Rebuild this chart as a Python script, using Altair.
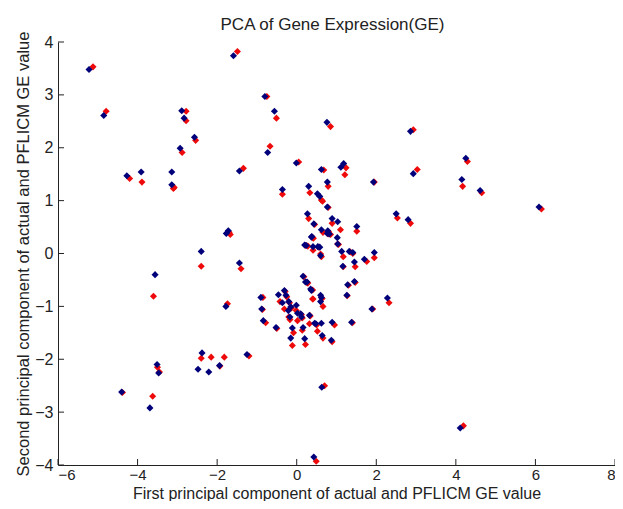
import altair as alt
import pandas as pd

# Blue (actual) points
blue_x = [-5.22,-4.85,-1.59,-4.27,-3.91,-3.14,-3.14,-2.89,-2.83,-2.57,-2.93,-0.80,-0.56,-0.73,-1.44,-0.01,-0.36,0.76,-1.77,-1.72,
          0.62,1.11,1.18,1.93,0.77,0.30,0.52,0.58,0.77,0.27,0.43,0.89,1.03,1.51,0.62,0.78,0.82,0.37,1.02,0.24,
          0.41,0.58,0.60,1.13,1.41,1.95,1.16,1.45,1.70,2.86,4.25,2.93,4.15,4.61,6.09,2.50,2.80,0.16,0.22,0.35,
          1.28,1.45,1.26,0.60,0.60,1.89,2.28,-0.31,-0.46,-0.27,-0.36,-0.15,-0.01,0.02,0.12,-0.17,0.32,-0.52,-0.11,-0.15,
          0.16,0.20,0.45,0.62,0.89,1.38,0.64,0.87,0.63,4.11,0.43,-2.40,-3.56,-1.44,-1.78,-3.51,-3.47,-4.40,-3.69,-2.38,
          -2.48,-2.21,-1.94,-1.25,-0.90,-0.88,-0.84,-0.20,-0.21,0.10,0.48,0.26,0.37,0.62,0.20,0.38,0.77,1.03,0.53,1.32]
blue_y = [3.48,2.61,3.74,1.47,1.54,1.54,1.30,2.70,2.56,2.20,1.99,2.97,2.69,1.91,1.56,1.71,1.21,2.48,0.38,0.43,
          1.59,1.63,1.70,1.35,1.35,1.27,1.13,1.08,0.88,0.75,0.56,0.66,0.60,0.51,0.45,0.43,0.37,0.31,0.30,0.15,
          0.13,0.12,-0.04,0.04,0.02,0.02,-0.24,-0.16,-0.11,2.31,1.80,1.51,1.40,1.19,0.88,0.75,0.64,-0.43,-0.54,-0.67,
          -0.59,-0.53,-0.79,-0.79,-0.91,-1.05,-0.84,-0.70,-0.78,-0.79,-0.93,-1.01,-0.98,-1.13,-1.20,-1.20,-1.17,-1.40,-1.41,-1.60,
          -1.40,-1.61,-1.32,-1.32,-1.30,-1.30,-1.55,-1.64,-2.53,-3.30,-3.85,0.04,-0.40,-0.18,-1.00,-2.10,-2.26,-2.62,-2.92,-1.88,
          -2.19,-2.24,-2.12,-1.91,-0.83,-1.05,-1.27,-0.91,-1.08,-1.14,-1.33,-0.54,-0.70,-0.83,0.16,0.32,0.38,0.18,0.13,0.04]

# Red (PFLICM) points
red_x = [-5.12,-4.79,-1.49,-4.20,-3.89,-3.08,-3.10,-2.78,-2.78,-2.54,-2.88,-0.75,-0.51,-0.67,-1.34,0.05,-0.36,0.85,-1.67,-1.70,
         0.68,1.24,1.21,1.95,0.79,0.33,0.62,0.65,0.79,0.30,0.45,0.89,1.10,1.51,0.66,0.80,0.85,0.42,1.03,0.28,
         0.41,0.60,0.62,1.17,1.41,1.95,1.17,1.47,1.76,2.93,4.29,3.03,4.17,4.65,6.15,2.53,2.86,0.18,0.25,0.40,
         1.30,1.47,1.27,0.41,0.66,1.91,2.32,-0.29,-0.42,-0.25,-0.31,-0.13,-0.01,0.02,0.14,-0.17,0.34,-0.50,-0.08,-0.11,
         0.14,0.22,0.32,0.52,0.95,1.40,0.66,0.89,0.70,4.19,0.49,-2.40,-3.60,-1.40,-1.74,-3.50,-3.45,-4.38,-3.62,-2.40,
         -2.15,-1.82,-1.93,-1.20,-0.85,-0.86,-0.78,-0.18,-0.20,0.12,0.50,0.28,0.40,0.64,0.22,0.40,0.79,1.05,0.55,1.35]
red_y = [3.53,2.69,3.82,1.42,1.35,1.25,1.23,2.69,2.51,2.14,1.91,2.97,2.56,2.03,1.61,1.73,1.12,2.40,0.36,0.40,
         1.58,1.62,1.49,1.35,1.27,1.15,1.01,0.99,0.87,0.66,0.55,0.57,0.45,0.42,0.40,0.41,0.36,0.29,0.18,0.14,
         0.06,-0.01,-0.06,-0.06,0.00,-0.08,-0.25,-0.25,-0.15,2.34,1.74,1.59,1.27,1.15,0.84,0.67,0.57,-0.44,-0.55,-0.69,
         -0.60,-0.55,-0.80,-0.86,-1.00,-1.05,-0.93,-0.72,-0.91,-0.82,-1.05,-1.03,-1.08,-1.27,-1.22,-1.25,-1.18,-1.42,-1.50,-1.74,
         -1.45,-1.72,-1.33,-1.47,-1.35,-1.31,-1.60,-1.67,-2.50,-3.26,-3.93,-0.24,-0.81,-0.29,-0.95,-2.15,-2.24,-2.63,-2.70,-1.98,
         -1.96,-1.96,-2.13,-1.94,-0.83,-1.06,-1.31,-0.93,-1.20,-1.16,-1.35,-0.56,-0.86,-0.85,0.15,0.30,0.37,0.17,0.12,0.03]

x_ticks = [-6, -4, -2, 0, 2, 4, 6, 8]
y_ticks = [-4, -3, -2, -1, 0, 1, 2, 3, 4]

df = pd.concat([
    pd.DataFrame({"x": red_x, "y": red_y, "series": "PFLICM"}),
    pd.DataFrame({"x": blue_x, "y": blue_y, "series": "actual"}),
], ignore_index=True)

W, H = 557, 423
FONT = "Liberation Sans"
TXT = "#222222"

xscale = alt.Scale(domain=[-6, 8], nice=False, zero=False)
yscale = alt.Scale(domain=[-4, 4], nice=False, zero=False)

points = alt.Chart(df).mark_point(shape="diamond", filled=True, size=50, opacity=1).encode(
    x=alt.X("x:Q", scale=xscale,
            axis=alt.Axis(values=x_ticks, ticks=False, tickSize=0, grid=False, labelPadding=2,
                          labelFontSize=15,
                          title="First principal component of actual and PFLICM GE value",
                          titleFontSize=16, titleBaseline="alphabetic", titleX=W / 2, titleY=33)),
    y=alt.Y("y:Q", scale=yscale,
            axis=alt.Axis(values=y_ticks, ticks=False, tickSize=0, grid=False, labelPadding=5,
                          labelFontSize=16,
                          title="Second principal component of actual and PFLICM GE value",
                          titleFontSize=16.5, titleBaseline="alphabetic", titleX=-30, titleY=H / 2)),
    color=alt.Color("series:N", scale=alt.Scale(domain=["PFLICM", "actual"],
                                                range=["#EE0A0A", "#00007A"]), legend=None),
)

xt = alt.Chart(pd.DataFrame({"t": x_ticks})).mark_rule(color=TXT, strokeWidth=1).encode(
    x=alt.X("t:Q", scale=xscale), y=alt.value(H), y2=alt.value(H - 6))
yt = alt.Chart(pd.DataFrame({"t": y_ticks})).mark_rule(color=TXT, strokeWidth=1).encode(
    y=alt.Y("t:Q", scale=yscale), x=alt.value(0), x2=alt.value(6))

chart = alt.layer(xt, yt, points).properties(
    width=W, height=H,
    background="white",
    title=alt.TitleParams("PCA of Gene Expression(GE)", font=FONT, fontSize=17,
                          fontWeight="normal", color=TXT, offset=8, dx=-4, dy=11),
    autosize=alt.AutoSizeParams(type="none"),
    padding={"left": 50, "top": 34, "right": 0, "bottom": 36},
).configure_view(stroke=None).configure_axis(
    domainColor=TXT, labelColor=TXT, titleColor=TXT, labelFont=FONT, titleFont=FONT,
    titleFontWeight="normal", domainWidth=1
)

chart.save("out.html", embed_options={"renderer": "svg", "actions": False})
